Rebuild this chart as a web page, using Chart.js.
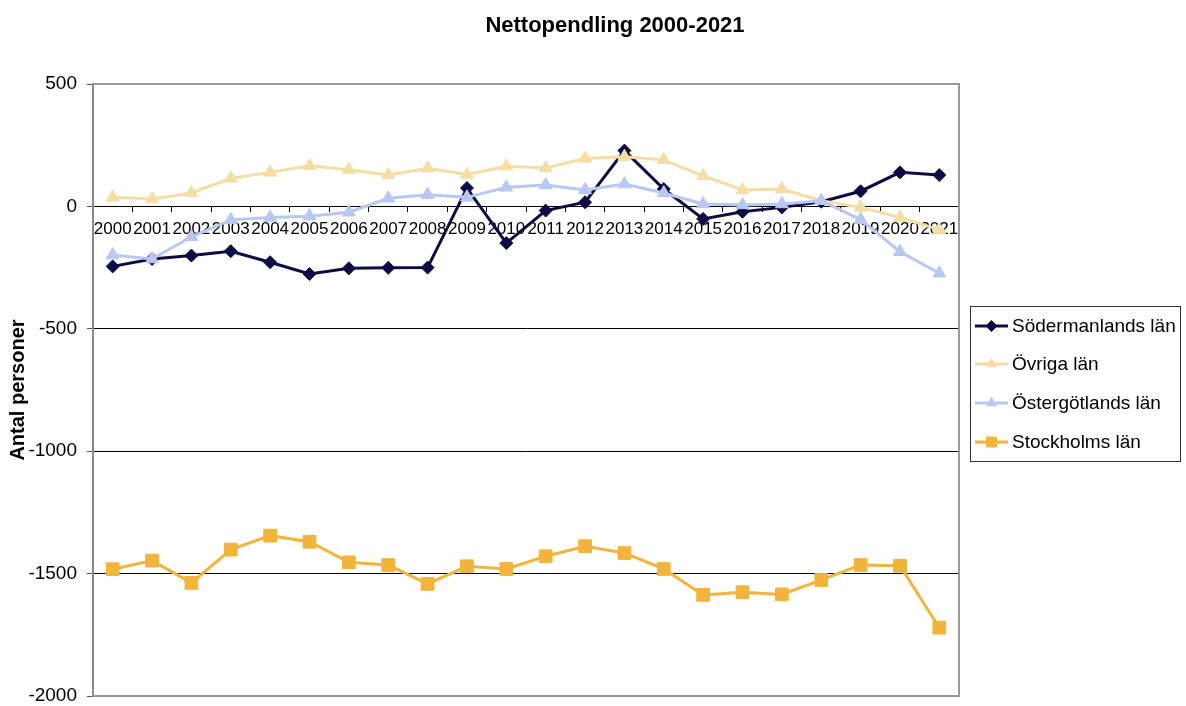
<!DOCTYPE html>
<html>
<head>
<meta charset="utf-8">
<script src="https://cdn.jsdelivr.net/npm/chart.js@4/dist/chart.umd.min.js"></script>
<style>
html,body{margin:0;padding:0;background:#ffffff;}
#wrap{width:1186px;height:706px;position:relative;}
</style>
</head>
<body>
<div id="wrap"><canvas id="c" width="1186" height="706"></canvas></div>
<script>
const chartTitle = 'Nettopendling 2000-2021';
const yAxisTitle = 'Antal personer';
const years = ['2000','2001','2002','2003','2004','2005','2006','2007','2008','2009','2010','2011','2012','2013','2014','2015','2016','2017','2018','2019','2020','2021'];
const seriesNames = ['Södermanlands län','Övriga län','Östergötlands län','Stockholms län'];
const sodermanland = [-245,-215,-201,-183,-228,-276,-253,-251,-250,75,-150,-17,17,228,71,-51,-22,-4,19,62,139,128];
const ovriga = [37,30,55,115,139,166,150,128,156,130,164,157,196,203,190,125,67,71,23,-4,-45,-96];
const ostergotland = [-199,-215,-124,-55,-45,-40,-24,33,48,37,78,87,67,91,55,10,6,10,23,-54,-185,-273];
const stockholm = [-1482,-1447,-1538,-1402,-1345,-1370,-1454,-1465,-1542,-1470,-1481,-1429,-1388,-1416,-1481,-1587,-1576,-1585,-1526,-1465,-1468,-1721];
const yTicks = [500,0,-500,-1000,-1500,-2000];

const colors = ['#0c0c44','#F4DEA6','#B9C8F2','#F2B43B'];
const styles = ['rectRot','triangle','triangle','rect'];
const radii = [6.5,7.5,7.5,9];
const values = [sodermanland, ovriga, ostergotland, stockholm];
const FONT = '"Liberation Sans", Arial, sans-serif';

const datasets = values.map((v,i)=>({
  label: seriesNames[i],
  data: v,
  borderColor: colors[i],
  backgroundColor: colors[i],
  borderWidth: 3,
  pointStyle: styles[i],
  pointRadius: radii[i],
  pointHoverRadius: radii[i],
  pointBorderWidth: 1,
  pointBackgroundColor: colors[i],
  pointBorderColor: colors[i],
  tension: 0,
  order: 4 - i
}));

const decor = {
  id: 'decor',
  afterDraw(chart) {
    const ctx = chart.ctx;
    const a = chart.chartArea;
    ctx.save();
    // plot border
    ctx.strokeStyle = '#9a9a9a';
    ctx.lineWidth = 2;
    ctx.beginPath();
    ctx.moveTo(a.left, a.top);
    ctx.lineTo(a.right, a.top);
    ctx.lineTo(a.right, a.bottom);
    ctx.lineTo(a.left, a.bottom);
    ctx.stroke();
    // title
    ctx.fillStyle = '#000';
    ctx.font = 'bold 22px ' + FONT;
    ctx.textAlign = 'center';
    ctx.textBaseline = 'middle';
    ctx.fillText(chartTitle, 615, 26);
    // legend
    const lx = 970, ly = 306, lw = 210, lh = 155;
    ctx.strokeStyle = '#333';
    ctx.lineWidth = 1;
    ctx.strokeRect(lx + 0.5, ly + 0.5, lw, lh);
    const rows = [326, 364, 403, 442];
    ctx.font = '19px ' + FONT;
    ctx.textAlign = 'left';
    ctx.textBaseline = 'middle';
    seriesNames.forEach((n, i) => {
      const y = rows[i];
      ctx.strokeStyle = colors[i];
      ctx.lineWidth = 3;
      ctx.beginPath();
      ctx.moveTo(975, y);
      ctx.lineTo(1008, y);
      ctx.stroke();
      ctx.fillStyle = colors[i];
      ctx.strokeStyle = colors[i];
      ctx.lineWidth = 1;
      Chart.helpers.drawPoint(ctx, {pointStyle: styles[i], radius: i === 3 ? 7 : 5.5, borderWidth: 1, rotation: 0}, 991.5, y);
      ctx.fillStyle = '#000';
      ctx.fillText(n, 1012, y + 1);
    });
    ctx.restore();
  }
};

new Chart(document.getElementById('c'), {
  type: 'line',
  data: { labels: years, datasets: datasets },
  options: {
    responsive: false,
    animation: false,
    events: [],
    layout: { padding: { left: 0, right: 227, top: 84, bottom: 9 } },
    plugins: { legend: { display: false }, title: { display: false }, tooltip: { enabled: false } },
    scales: {
      x: {
        type: 'category',
        position: { y: 0 },
        offset: true,
        afterFit: s => { s.height = 0; s.paddingLeft = 0; s.paddingRight = 0; },
        grid: { display: true, offset: true, drawOnChartArea: false, drawTicks: true, tickLength: 5, color: '#000', lineWidth: 1 },
        border: { display: true, color: '#000', width: 1 },
        ticks: { autoSkip: false, maxRotation: 0, minRotation: 0, padding: 8, color: '#000', font: { family: FONT, size: 17 } }
      },
      y: {
        min: -2000,
        max: 500,
        afterFit: s => { s.width = 93; s.paddingTop = 0; s.paddingBottom = 0; },
        afterBuildTicks: s => { s.ticks = yTicks.map(v => ({ value: v })); },
        grid: {
          color: c => (c.tick && (c.tick.value === 500 || c.tick.value === -2000)) ? '#9a9a9a' : '#000',
          tickColor: '#555',
          lineWidth: 1,
          tickLength: 6
        },
        border: { display: true, color: '#8a8a8a', width: 2 },
        ticks: { padding: 10, color: '#000', font: { family: FONT, size: 19 }, callback: v => String(v) },
        title: { display: true, text: yAxisTitle, color: '#000', font: { family: FONT, size: 20, weight: 'bold' }, padding: { top: 6, bottom: 0 } }
      }
    }
  },
  plugins: [decor]
});
</script>
</body>
</html>
